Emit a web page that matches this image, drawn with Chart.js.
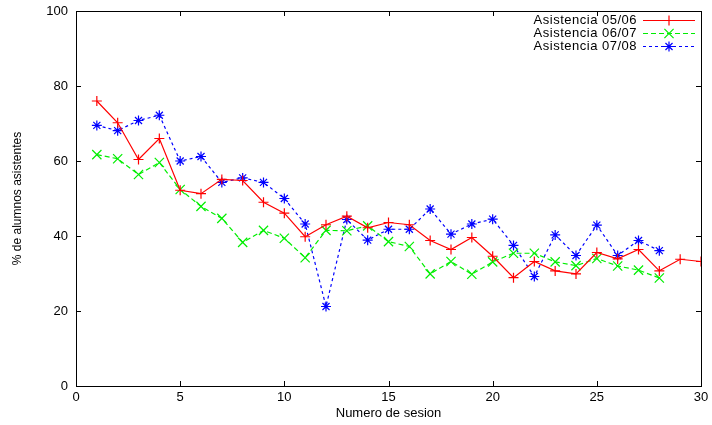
<!DOCTYPE html>
<html>
<head>
<meta charset="utf-8">
<script src="https://cdn.jsdelivr.net/npm/chart.js@4.4.1/dist/chart.umd.min.js"></script>
<style>
  html, body { margin: 0; padding: 0; background: #fff; }
  #wrap { width: 712px; height: 425px; }
</style>
</head>
<body>
<div id="wrap"><canvas id="c" width="712" height="425"></canvas></div>
<script>
// ---- Data ----
const sessions = [1,2,3,4,5,6,7,8,9,10,11,12,13,14,15,16,17,18,19,20,21,22,23,24,25,26,27,28,29,30];
const asistencia0506 = [76.0,70.2,60.4,66.0,52.2,51.3,55.1,54.8,49.0,46.1,39.8,43.0,45.3,42.2,43.6,43.0,38.8,36.4,39.6,34.6,28.9,33.2,30.7,29.9,35.6,33.9,36.4,30.7,33.8,33.2];
const asistencia0607 = [61.7,60.6,56.4,59.6,52.4,47.9,44.7,38.3,41.5,39.4,34.2,41.5,41.4,42.7,38.5,37.2,29.9,33.2,29.8,33.1,35.4,35.4,33.1,32.1,34.0,32.0,30.9,28.8];
const asistencia0708 = [69.5,68.1,70.8,72.2,60.0,61.2,54.3,55.5,54.3,50.0,43.2,21.2,44.4,38.9,41.8,41.8,47.2,40.5,43.2,44.5,37.5,29.2,40.3,34.8,42.9,34.8,38.8,36.1];
const seriesLabels = ["Asistencia 05/06", "Asistencia 06/07", "Asistencia 07/08"];
const xTicks = [0,5,10,15,20,25,30];
const yTicks = [0,20,40,60,80,100];
const xTitle = "Numero de sesion";
const yTitle = "% de alumnos asistentes";

const FONT = "'Liberation Sans', Arial, Helvetica, sans-serif";

function pts(vals) { return vals.map((v, i) => ({ x: sessions[i], y: v })); }

// Inward ticks + frame (gnuplot style)
const framePlugin = {
  id: 'frame',
  afterDatasetsDraw(chart) {
    const { ctx, chartArea: a, scales } = chart;
    ctx.save();
    ctx.strokeStyle = '#000';
    ctx.lineWidth = 1;
    ctx.setLineDash([]);
    ctx.beginPath();
    const L = 5;
    xTicks.forEach(v => {
      const px = Math.round(scales.x.getPixelForValue(v)) + 0.5;
      ctx.moveTo(px, a.bottom); ctx.lineTo(px, a.bottom - L);
      ctx.moveTo(px, a.top); ctx.lineTo(px, a.top + L);
    });
    yTicks.forEach(v => {
      const py = Math.round(scales.y.getPixelForValue(v)) + 0.5;
      ctx.moveTo(a.left, py); ctx.lineTo(a.left + L, py);
      ctx.moveTo(a.right, py); ctx.lineTo(a.right - L, py);
    });
    ctx.stroke();
    ctx.strokeRect(Math.round(a.left) + 0.5, Math.round(a.top) + 0.5, Math.round(a.right - a.left), Math.round(a.bottom - a.top));
    ctx.restore();
  }
};

// gnuplot-like key: text right-aligned, then sample line with marker
const keyPlugin = {
  id: 'key',
  afterDraw(chart) {
    const { ctx } = chart;
    const textRight = 637, lineL = 643, lineR = 695, rowY0 = 20, rowDy = 13;
    ctx.save();
    chart.data.datasets.forEach((ds, i) => {
      const y = rowY0 + i * rowDy;
      ctx.font = "13px " + FONT;
      if ('letterSpacing' in ctx) ctx.letterSpacing = '0.5px';
      ctx.fillStyle = '#000';
      ctx.textAlign = 'right';
      ctx.textBaseline = 'middle';
      ctx.fillText(ds.label, textRight, y);
      if ('letterSpacing' in ctx) ctx.letterSpacing = '0px';
      ctx.strokeStyle = ds.borderColor;
      ctx.lineWidth = ds.borderWidth;
      ctx.setLineDash(ds.borderDash || []);
      ctx.beginPath();
      ctx.moveTo(lineL, y + 0.5); ctx.lineTo(lineR, y + 0.5);
      ctx.stroke();
      ctx.setLineDash([]);
      ctx.lineWidth = ds.pointBorderWidth;
      Chart.helpers.drawPoint(ctx, { pointStyle: ds.pointStyle, radius: ds.pointRadius, rotation: 0, borderWidth: ds.pointBorderWidth }, (lineL + lineR) / 2, y + 0.5);
    });
    ctx.restore();
  }
};

new Chart(document.getElementById('c'), {
  type: 'line',
  data: {
    datasets: [
      { label: seriesLabels[0], data: pts(asistencia0506), borderColor: '#ff0000', backgroundColor: '#ff0000', borderWidth: 1.2, pointStyle: 'cross', pointRadius: 5, pointBorderWidth: 1.2, fill: false, tension: 0 },
      { label: seriesLabels[1], data: pts(asistencia0607), borderColor: '#00ee00', backgroundColor: '#00ee00', borderWidth: 1.2, borderDash: [5, 3], pointStyle: 'crossRot', pointRadius: 6.5, pointBorderWidth: 1.2, fill: false, tension: 0 },
      { label: seriesLabels[2], data: pts(asistencia0708), borderColor: '#0000ff', backgroundColor: '#0000ff', borderWidth: 1.2, borderDash: [3, 3], pointStyle: 'star', pointRadius: 5, pointBorderWidth: 1.2, fill: false, tension: 0 }
    ]
  },
  options: {
    responsive: false,
    animation: false,
    devicePixelRatio: 1,
    layout: { padding: { top: 11, right: 11, left: 0, bottom: 0 } },
    plugins: { legend: { display: false }, tooltip: { enabled: false } },
    scales: {
      x: {
        type: 'linear',
        min: xTicks[0], max: xTicks[xTicks.length - 1],
        afterBuildTicks: s => { s.ticks = xTicks.map(v => ({ value: v })); },
        afterFit: s => { s.height = 39; s.paddingLeft = 0; s.paddingRight = 0; },
        grid: { display: true, drawOnChartArea: false, drawTicks: false, color: 'rgba(0,0,0,0)' },
        border: { display: false },
        ticks: { color: '#000', font: { family: FONT, size: 13 }, padding: 4, maxRotation: 0, autoSkip: false },
        title: { display: true, text: xTitle, color: '#000', font: { family: FONT, size: 13 }, padding: { top: 0, bottom: 4 } }
      },
      y: {
        type: 'linear',
        min: yTicks[0], max: yTicks[yTicks.length - 1],
        afterBuildTicks: s => { s.ticks = yTicks.map(v => ({ value: v })); },
        afterFit: s => { s.width = 76; s.paddingTop = 0; s.paddingBottom = 0; },
        grid: { display: true, drawOnChartArea: false, drawTicks: false, color: 'rgba(0,0,0,0)' },
        border: { display: false },
        ticks: { color: '#000', font: { family: FONT, size: 13 }, padding: 8, autoSkip: false },
        title: { display: true, text: yTitle, color: '#000', font: { family: FONT, size: 12 }, padding: { top: 10, bottom: 0 } }
      }
    }
  },
  plugins: [framePlugin, keyPlugin]
});
</script>
</body>
</html>
